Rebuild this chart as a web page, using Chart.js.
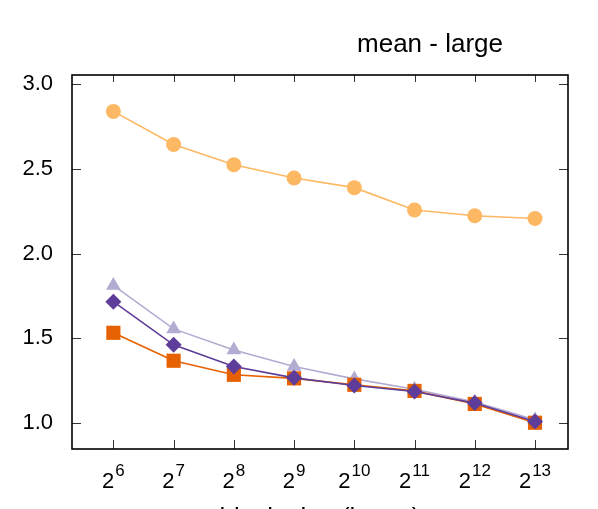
<!DOCTYPE html>
<html>
<head>
<meta charset="utf-8">
<script src="https://cdn.jsdelivr.net/npm/chart.js@4/dist/chart.umd.min.js"></script>
<style>
  html, body { margin: 0; padding: 0; background: #fff; }
  #wrap { width: 598px; height: 509px; position: relative; }
</style>
</head>
<body>
<div id="wrap"><canvas id="chart"></canvas></div>
<script>
// block sizes are 2^n, n below
const blockExponents = [6, 7, 8, 9, 10, 11, 12, 13]
const yTicks = [1.0, 1.5, 2.0, 2.5, 3.0]
const circleSeries = [2.84, 2.645, 2.525, 2.447, 2.39, 2.258, 2.224, 2.208]
const squareSeries = [1.533, 1.368, 1.285, 1.264, 1.226, 1.19, 1.113, 1.002]
const triangleSeries = [1.813, 1.556, 1.432, 1.334, 1.261, 1.2, 1.125, 1.02]
const diamondSeries = [1.717, 1.462, 1.334, 1.267, 1.222, 1.186, 1.118, 1.009]
const chartTitle = 'mean - large'
const xTitle = 'block size (bytes)'

const FONT = '"Liberation Sans", Arial, sans-serif'

function pts(values){
    return blockExponents.map((e, i) => ({x: e, y: values[i]}))
}

function series(values, color, shape, radius){
    return {
        data: pts(values),
        borderColor: color,
        backgroundColor: color,
        pointBackgroundColor: color,
        pointBorderColor: color,
        pointBorderWidth: 0,
        pointStyle: shape,
        pointRadius: radius,
        borderWidth: 1.6,
        tension: 0
    }
}

const framePlugin = {
    id: 'frame',
    afterDraw(chart){
        const ctx = chart.ctx
        const a = chart.chartArea
        const xs = chart.scales.x
        const ys = chart.scales.y
        ctx.save()
        // inward tick marks
        ctx.strokeStyle = '#333'
        ctx.lineWidth = 1
        ctx.beginPath()
        ys.ticks.forEach(t => {
            const y = Math.round(ys.getPixelForValue(t.value)) + 0.5
            ctx.moveTo(a.left, y); ctx.lineTo(a.left + 9, y)
            ctx.moveTo(a.right, y); ctx.lineTo(a.right - 9, y)
        })
        xs.ticks.forEach(t => {
            const x = Math.round(xs.getPixelForValue(t.value)) + 0.5
            ctx.moveTo(x, a.bottom); ctx.lineTo(x, a.bottom - 9)
            ctx.moveTo(x, a.top); ctx.lineTo(x, a.top + 7)
        })
        ctx.stroke()
        // frame
        ctx.strokeStyle = '#000'
        ctx.lineWidth = 1.6
        ctx.strokeRect(a.left, a.top, a.right - a.left, a.bottom - a.top)
        // x labels 2^n
        ctx.fillStyle = '#000'
        ctx.textBaseline = 'alphabetic'
        ctx.textAlign = 'left'
        xs.ticks.forEach(t => {
            const x = xs.getPixelForValue(t.value)
            const exp = String(t.value)
            ctx.font = '22px ' + FONT
            const wb = ctx.measureText('2').width
            ctx.font = '17px ' + FONT
            const we = ctx.measureText(exp).width
            const start = x - (wb + 1 + we) / 2
            ctx.font = '22px ' + FONT
            ctx.fillText('2', start, 488)
            ctx.font = '17px ' + FONT
            ctx.fillText(exp, start + wb + 1, 476)
        })
        // titles
        ctx.font = '26px ' + FONT
        ctx.textAlign = 'center'
        ctx.fillText(chartTitle, 430, 52)
        ctx.fillText(xTitle, (a.left + a.right) / 2, 526)
        ctx.restore()
    }
}

const ctx = document.getElementById('chart').getContext('2d')
const myChart = new Chart(ctx, {
    type: 'line',
    data: {
        datasets: [
            series(diamondSeries, '#5e3c99', 'rectRot', 8),
            series(squareSeries, '#e66101', 'rect', 10),
            series(triangleSeries, '#b2abd2', 'triangle', 8.5),
            series(circleSeries, '#fdb863', 'circle', 7.5)
        ]
    },
    options: {
        responsive: true,
        maintainAspectRatio: false,
        animation: false,
        devicePixelRatio: 1,
        layout: {padding: {left: 0, right: 30, top: 75, bottom: 0}},
        plugins: {
            legend: {display: false},
            tooltip: {enabled: false}
        },
        scales: {
            x: {
                type: 'linear',
                min: 5.313,
                max: 13.548,
                grid: {display: false},
                border: {display: false},
                ticks: {display: false},
                afterBuildTicks: s => { s.ticks = blockExponents.map(v => ({value: v})) },
                afterFit: s => { s.height = 60 }
            },
            y: {
                min: 0.847,
                max: 3.055,
                grid: {display: false},
                border: {display: false},
                ticks: {
                    padding: 11,
                    color: '#000',
                    font: {family: FONT, size: 22},
                    callback: function(value){
                        return Number(value).toFixed(1)
                    }
                },
                afterBuildTicks: s => { s.ticks = yTicks.map(v => ({value: v})) },
                afterFit: s => { s.width = 72 }
            }
        }
    },
    plugins: [framePlugin]
})
</script>
</body>
</html>
